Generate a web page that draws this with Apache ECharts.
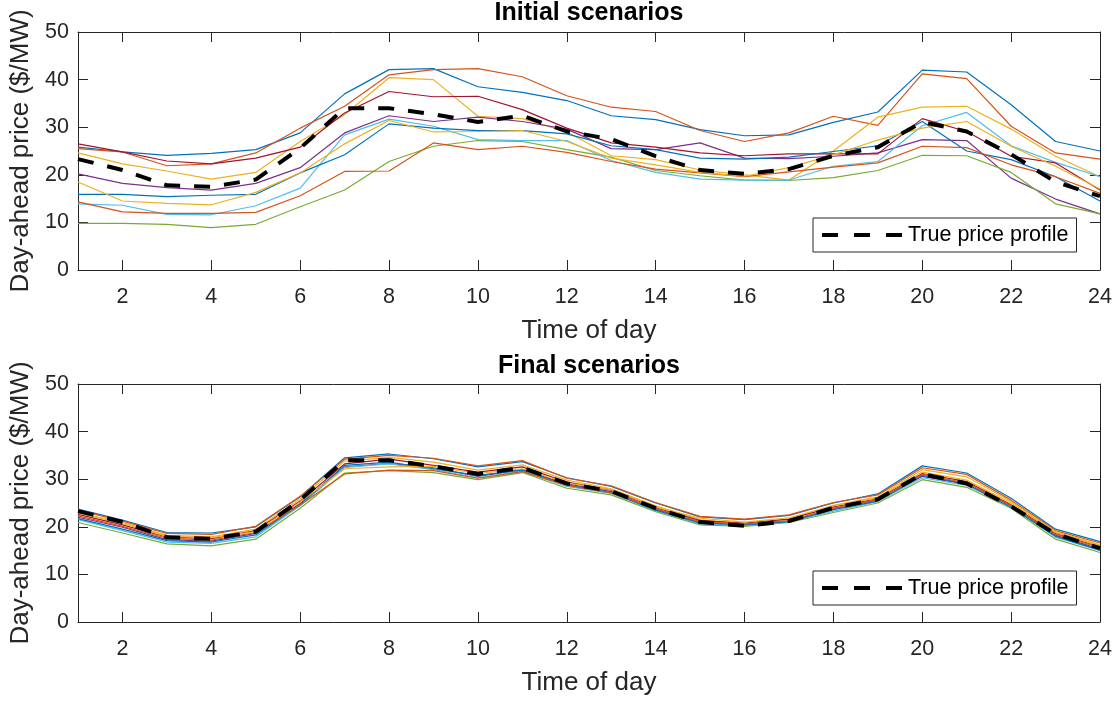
<!DOCTYPE html>
<html>
<head>
<meta charset="utf-8">
<script src="https://cdn.jsdelivr.net/npm/echarts@6/dist/echarts.min.js"></script>
<style>
html,body{margin:0;padding:0;background:#fff;}
#chart{width:1116px;height:702px;}
</style>
</head>
<body>
<div id="chart"></div>
<script>
// ---- data ----
const hours = [1,2,3,4,5,6,7,8,9,10,11,12,13,14,15,16,17,18,19,20,21,22,23,24];
const xTickValues = [2,4,6,8,10,12,14,16,18,20,22,24];
const trueProfile = [23.3,21.0,17.8,17.5,19.0,25.6,34.0,34.0,32.7,31.1,32.4,29.1,27.5,23.9,21.0,20.2,21.2,24.0,25.8,31.1,29.1,24.3,18.5,15.5];

// initial scenarios
const initBlue1   = [25.8,24.8,24.1,24.5,25.3,28.8,37.0,42.1,42.3,38.5,37.3,35.6,32.4,31.6,29.5,28.2,28.4,31.0,33.2,42.0,41.6,34.7,27.0,25.0];
const initOrange1 = [25.5,24.8,21.9,22.3,24.6,29.8,34.4,41.0,42.1,42.3,40.6,36.6,34.2,33.3,29.3,27.0,28.8,32.3,30.4,41.2,40.2,30.2,24.6,23.3];
const initYellow1 = [24.6,22.3,20.8,19.1,20.5,27.0,32.6,40.4,40.0,32.3,31.8,29.0,24.0,23.2,21.0,20.0,18.9,25.0,32.1,34.2,34.4,29.6,23.9,19.6];
const initPurple  = [20.2,18.2,17.3,16.8,18.2,21.5,28.8,32.4,31.2,32.1,31.2,29.6,25.5,25.3,26.7,23.5,23.4,23.9,24.6,27.4,27.2,19.3,14.9,11.8];
const initGreen   = [9.8,9.8,9.6,8.9,9.6,13.3,16.8,22.8,26.0,27.2,27.0,25.3,23.7,20.9,19.8,18.9,18.8,19.4,20.9,24.1,24.0,20.5,13.9,11.8];
const initLBlue   = [13.9,13.6,11.7,11.6,13.5,17.2,28.4,31.7,30.2,27.4,27.2,27.2,23.0,20.5,19.1,18.9,18.9,21.8,22.8,30.3,33.1,26.1,22.6,19.6];
const initDRed    = [26.5,24.8,22.9,22.3,23.5,25.8,33.0,37.5,36.4,36.5,33.7,29.8,26.7,25.8,24.6,24.0,24.4,24.4,24.4,31.8,29.1,23.9,22.5,16.8];
const initBlue2   = [15.9,15.9,15.4,15.7,15.9,20.4,24.2,30.7,29.8,29.3,29.3,28.6,26.1,25.3,23.5,23.3,23.7,24.9,26.1,31.2,25.0,23.2,19.6,14.5];
const initOrange2 = [14.3,12.2,11.9,11.9,12.1,15.6,20.7,20.8,26.7,25.3,26.0,24.7,22.8,21.2,20.4,19.6,20.6,21.6,22.5,26.0,25.7,22.1,19.6,16.1];
const initYellow2 = [18.5,14.5,14.0,13.7,16.3,20.4,26.5,31.4,29.0,29.1,29.3,27.0,23.5,22.1,20.5,19.7,21.5,24.2,27.3,29.8,31.2,26.0,21.8,17.0];

// final scenarios
const finBlue1   = [23.7,21.4,18.8,18.7,20.0,26.3,34.5,35.3,34.3,32.6,33.7,30.3,28.5,25.0,22.1,21.5,22.4,25.0,26.9,32.8,31.3,26.0,19.5,16.9];
const finOrange1 = [23.5,21.2,18.6,18.4,20.1,26.4,34.2,35.0,34.4,32.8,33.9,30.2,28.6,25.1,22.2,21.6,22.5,25.1,26.7,32.4,31.0,25.6,19.2,16.6];
const finYellow1 = [23.0,20.9,18.2,17.9,19.5,25.9,33.8,34.6,33.6,31.9,33.0,29.8,28.0,24.4,21.5,20.6,21.6,24.5,26.3,32.0,30.5,25.3,19.0,16.2];
const finPurple  = [22.0,19.9,17.3,17.0,18.6,24.9,32.6,33.3,32.4,30.6,32.0,29.0,27.4,23.7,20.9,20.4,21.1,23.8,25.6,30.6,28.9,24.4,18.2,15.3];
const finGreen   = [20.9,18.7,16.4,16.0,17.4,23.9,31.3,31.8,31.4,29.9,31.4,28.1,26.7,23.2,20.4,20.1,20.9,23.0,25.0,29.9,28.3,23.9,17.4,14.6];
const finLBlue   = [21.5,19.2,16.8,16.5,17.9,24.4,32.5,33.2,32.0,30.3,31.7,28.5,27.0,23.4,20.6,20.3,21.0,23.3,25.3,30.3,28.7,24.2,17.8,15.0];
const finDRed    = [22.6,20.4,17.9,17.5,19.2,25.4,33.2,34.2,32.9,31.5,32.6,29.4,27.7,24.0,21.3,20.8,21.6,24.2,25.9,31.2,29.5,24.6,18.6,15.8];
const finBlue2   = [21.7,19.5,17.1,16.8,18.3,24.7,32.9,33.6,32.2,30.8,31.9,28.8,27.2,23.5,20.8,20.4,21.1,23.6,25.4,30.8,29.0,24.1,18.0,15.1];
const finOrange2 = [22.3,20.1,17.6,17.2,18.8,24.6,31.1,31.9,31.8,30.2,31.6,28.7,27.1,23.8,21.1,20.6,21.3,23.9,25.7,31.0,29.2,24.5,18.4,15.6];
const finYellow2 = [22.9,20.7,18.0,17.7,19.0,25.2,32.2,32.6,32.7,31.2,32.2,29.2,27.8,24.2,21.8,21.0,21.9,24.4,26.1,31.5,29.8,25.0,18.8,16.0];

const titles = ['Initial scenarios', 'Final scenarios'];
const xName = 'Time of day';
const yName = 'Day-ahead price ($/MW)';
const legendName = 'True price profile';

// ---- styling ----
const C = ['#0072BD','#D95319','#EDB120','#7E2F8E','#77AC30','#4DBEEE','#A2142F'];
const initSets = [initBlue1, initOrange1, initYellow1, initPurple, initGreen, initLBlue, initDRed, initBlue2, initOrange2, initYellow2];
const finSets  = [finBlue1, finOrange1, finYellow1, finPurple, finGreen, finLBlue, finDRed, finBlue2, finOrange2, finYellow2];

const FONT = '"Liberation Sans", Arial, Helvetica, sans-serif';
const AX = '#262626';
const grids = [
  {left: 78, right: 16, top: 32, height: 238},
  {left: 78, right: 16, top: 384, height: 238}
];

const xAxes = [], yAxes = [], series = [];
[0,1].forEach(function(g){
  xAxes.push({
    type: 'value', gridIndex: g, min: 1, max: 24, position: 'bottom',
    name: xName, nameLocation: 'middle', nameGap: 48,
    nameTextStyle: {fontFamily: FONT, fontSize: 26, color: AX},
    axisLine: {onZero: false, lineStyle: {color: AX, width: 1}},
    axisTick: {inside: true, length: 10, customValues: xTickValues, lineStyle: {color: AX}},
    axisLabel: {customValues: xTickValues, fontFamily: FONT, fontSize: 21.5, color: AX, margin: 16},
    splitLine: {show: false}
  });
  xAxes.push({
    type: 'value', gridIndex: g, min: 1, max: 24, position: 'top',
    axisLine: {onZero: false, lineStyle: {color: AX, width: 1}},
    axisTick: {inside: true, length: 10, customValues: xTickValues, lineStyle: {color: AX}},
    axisLabel: {show: false},
    splitLine: {show: false}
  });
  yAxes.push({
    type: 'value', gridIndex: g, min: 0, max: 50, interval: 10, position: 'left',
    name: yName, nameLocation: 'middle', nameGap: 40,
    nameTextStyle: {fontFamily: FONT, fontSize: 26, color: AX},
    axisLine: {show: true, onZero: false, lineStyle: {color: AX, width: 1}},
    axisTick: {show: true, inside: true, length: 10, lineStyle: {color: AX}},
    axisLabel: {fontFamily: FONT, fontSize: 21.5, color: AX, margin: 9},
    splitLine: {show: false}
  });
  yAxes.push({
    type: 'value', gridIndex: g, min: 0, max: 50, interval: 10, position: 'right',
    axisLine: {show: true, onZero: false, lineStyle: {color: AX, width: 1}},
    axisTick: {show: true, inside: true, length: 10, lineStyle: {color: AX}},
    axisLabel: {show: false},
    splitLine: {show: false}
  });
  const sets = g === 0 ? initSets : finSets;
  sets.forEach(function(arr, i){
    series.push({
      type: 'line', name: 'Scenario ' + (i+1), xAxisIndex: g*2, yAxisIndex: g*2,
      data: hours.map(function(h, k){ return [h, arr[k]]; }),
      symbol: 'none', silent: true,
      lineStyle: {color: C[i % C.length], width: 1.2},
      itemStyle: {color: C[i % C.length]},
      z: 2
    });
  });
  series.push({
    type: 'line', name: legendName, xAxisIndex: g*2, yAxisIndex: g*2,
    data: hours.map(function(h, k){ return [h, trueProfile[k]]; }),
    symbol: 'none', silent: true,
    lineStyle: {color: '#000', width: 4, type: [16, 14], cap: 'butt'},
    itemStyle: {color: '#000'},
    z: 5
  });
});

const legends = [218, 571].map(function(t){
  return {
    data: [legendName], left: 813, top: t, orient: 'horizontal',
    itemWidth: 80, itemHeight: 14, itemGap: 6,
    padding: [6, 8, 6, 7],
    borderColor: AX, borderWidth: 1, backgroundColor: '#fff',
    selectedMode: false,
    textStyle: {fontFamily: FONT, fontSize: 21.5, color: '#000', padding: [0,0,0,1]},
    lineStyle: {type: [16, 16], width: 4, color: '#000'},
    itemStyle: {opacity: 0}
  };
});

const chart = echarts.init(document.getElementById('chart'), null, {renderer: 'canvas'});
chart.setOption({
  animation: false,
  backgroundColor: '#fff',
  grid: grids,
  xAxis: xAxes,
  yAxis: yAxes,
  series: series,
  legend: legends,
  graphic: [
    {type: 'text', x: 589, y: 1, style: {text: titles[0], font: 'bold 25px ' + FONT, fill: '#000', textAlign: 'center', textVerticalAlign: 'top'}},
    {type: 'text', x: 589, y: 354, style: {text: titles[1], font: 'bold 25px ' + FONT, fill: '#000', textAlign: 'center', textVerticalAlign: 'top'}}
  ]
});
</script>
</body>
</html>
